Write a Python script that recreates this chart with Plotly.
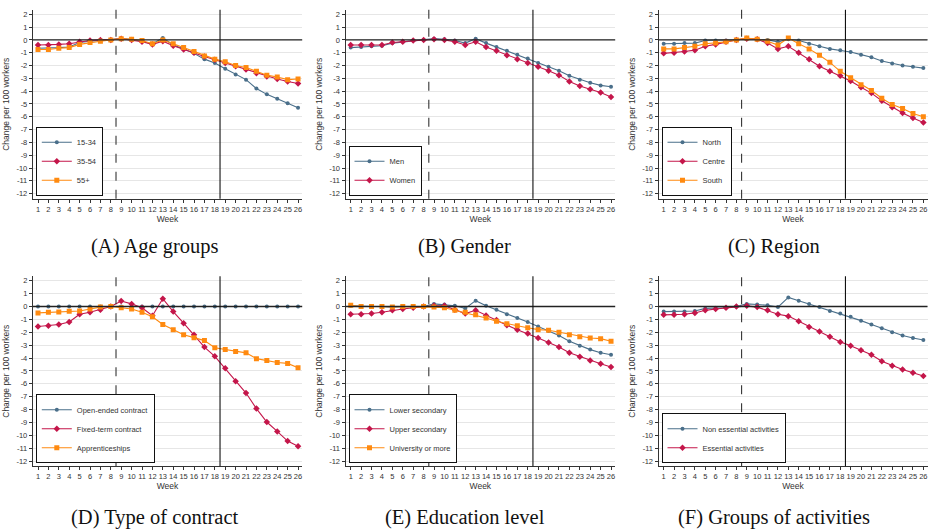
import plotly.graph_objects as go

weeks = list(range(1, 27))

# Panel A: Age groups
age_15_34 = [-0.65, -0.65, -0.6, -0.55, -0.2, -0.1, -0.05, 0, 0.1, 0.05, -0.1, -0.3, 0.15, -0.4, -0.7, -1.05, -1.5, -1.8, -2.25, -2.7, -3.1, -3.8, -4.25, -4.6, -4.95, -5.3]
age_35_54 = [-0.4, -0.4, -0.35, -0.3, -0.15, -0.05, 0, 0, 0.1, 0, -0.15, -0.35, -0.1, -0.45, -0.75, -1.0, -1.3, -1.55, -1.8, -2.05, -2.3, -2.6, -2.85, -3.05, -3.25, -3.4]
age_55p = [-0.75, -0.75, -0.65, -0.6, -0.35, -0.2, -0.1, 0, 0.1, 0.05, -0.05, -0.3, 0, -0.3, -0.6, -0.9, -1.25, -1.5, -1.7, -2.0, -2.15, -2.45, -2.75, -2.9, -3.1, -3.05]

# Panel B: Gender
men = [-0.6, -0.55, -0.5, -0.45, -0.25, -0.15, -0.05, 0, 0.1, 0.05, -0.05, -0.25, 0.1, -0.25, -0.55, -0.85, -1.15, -1.45, -1.8, -2.1, -2.4, -2.8, -3.1, -3.35, -3.55, -3.65]
women = [-0.4, -0.4, -0.4, -0.4, -0.2, -0.15, -0.05, 0, 0.05, 0, -0.15, -0.4, -0.15, -0.55, -0.85, -1.2, -1.5, -1.8, -2.1, -2.4, -2.75, -3.25, -3.6, -3.85, -4.1, -4.45]

# Panel C: Region
north = [-0.3, -0.3, -0.25, -0.25, -0.05, -0.05, -0.05, 0, 0.1, 0.05, 0, -0.15, 0.05, -0.05, -0.3, -0.5, -0.7, -0.8, -0.95, -1.15, -1.35, -1.65, -1.85, -2.0, -2.1, -2.2]
centre = [-1.05, -1.0, -0.9, -0.8, -0.5, -0.35, -0.15, 0, 0.1, 0.05, -0.25, -0.7, -0.5, -1.0, -1.5, -2.05, -2.45, -2.8, -3.2, -3.7, -4.15, -4.75, -5.25, -5.7, -6.1, -6.45]
south = [-0.7, -0.7, -0.6, -0.5, -0.3, -0.25, -0.15, 0, 0.15, 0.05, -0.1, -0.4, 0.15, -0.3, -0.7, -1.2, -1.75, -2.45, -2.95, -3.5, -3.95, -4.55, -5.05, -5.35, -5.75, -6.0]

# Panel D: Type of contract
open_ended = [0] * 26
fixed_term = [-1.55, -1.5, -1.4, -1.2, -0.6, -0.45, -0.25, 0, 0.42, 0.2, -0.1, -0.72, 0.6, -0.4, -1.3, -2.2, -3.15, -3.87, -4.8, -5.8, -6.72, -7.93, -8.97, -9.7, -10.45, -10.85]
apprentices = [-0.5, -0.45, -0.42, -0.38, -0.35, -0.2, -0.05, 0, -0.1, -0.2, -0.45, -0.8, -1.4, -1.8, -2.2, -2.42, -2.65, -3.2, -3.35, -3.5, -3.6, -4.05, -4.2, -4.35, -4.42, -4.75]

# Panel E: Education level
lower_sec = [0.05, 0.0, 0.0, 0.0, -0.05, 0.0, 0.0, 0, 0.2, 0.15, 0.05, -0.15, 0.45, 0.05, -0.25, -0.6, -0.9, -1.2, -1.55, -1.9, -2.25, -2.7, -3.05, -3.35, -3.6, -3.75]
upper_sec = [-0.6, -0.6, -0.55, -0.45, -0.3, -0.2, -0.1, 0, 0.05, 0.05, -0.25, -0.55, -0.3, -0.7, -1.05, -1.45, -1.8, -2.1, -2.45, -2.8, -3.15, -3.6, -3.9, -4.2, -4.45, -4.7]
university = [0.1, 0.0, 0.0, 0.0, -0.05, 0.0, 0.0, 0, -0.05, -0.1, -0.3, -0.45, -0.65, -0.9, -1.15, -1.35, -1.5, -1.65, -1.8, -1.85, -2.0, -2.2, -2.35, -2.45, -2.5, -2.7]

# Panel F: Groups of activities
non_essential = [-0.4, -0.4, -0.4, -0.35, -0.15, -0.15, -0.1, 0, 0.2, 0.15, 0.1, -0.05, 0.7, 0.45, 0.2, -0.05, -0.35, -0.55, -0.8, -1.1, -1.4, -1.7, -2.0, -2.25, -2.45, -2.6]
essential = [-0.65, -0.65, -0.6, -0.5, -0.3, -0.2, -0.1, 0, 0.05, -0.05, -0.3, -0.6, -0.75, -1.15, -1.6, -1.95, -2.35, -2.75, -3.05, -3.4, -3.75, -4.25, -4.6, -4.9, -5.15, -5.4]

captions = ["(A) Age groups", "(B) Gender", "(C) Region",
            "(D) Type of contract", "(E) Education level", "(F) Groups of activities"]

panels = [
    [("15-34", age_15_34), ("35-54", age_35_54), ("55+", age_55p)],
    [("Men", men), ("Women", women)],
    [("North", north), ("Centre", centre), ("South", south)],
    [("Open-ended contract", open_ended), ("Fixed-term contract", fixed_term), ("Apprenticeships", apprentices)],
    [("Lower secondary", lower_sec), ("Upper secondary", upper_sec), ("University or more", university)],
    [("Non essential activities", non_essential), ("Essential activities", essential)],
]

y_ticks = list(range(2, -13, -1))
x_ticks = weeks

BLUE = "#4a6f8a"
RED = "#c4164a"
ORANGE = "#ff8a10"
styles = [(BLUE, "circle", 4), (RED, "diamond", 5), (ORANGE, "square", 5)]

W, H = 929, 531
col_dom = [(32.8 / W, 302.2 / W), (345.5 / W, 615.2 / W), (658.5 / W, 927.5 / W)]
row_dom = [(1 - 198.8 / H, 1 - 9.8 / H), (1 - 466.2 / H, 1 - 276.2 / H)]
XR = [0.5, 26.4]
YR = [-12.4, 2.35]

fig = go.Figure()
layout = dict(width=W, height=H, margin=dict(l=0, r=0, t=0, b=0),
              paper_bgcolor="white", plot_bgcolor="white", showlegend=True,
              font=dict(family="Liberation Sans, Arial", size=8, color="#333"))
shapes = []
annotations = []

for i, series in enumerate(panels):
    r, c = divmod(i, 3)
    n = i + 1
    xa = "x" if n == 1 else f"x{n}"
    ya = "y" if n == 1 else f"y{n}"
    lg = "legend" if n == 1 else f"legend{n}"
    for j, (name, vals) in enumerate(series):
        color, sym, sz = styles[j]
        fig.add_trace(go.Scatter(
            x=weeks, y=vals, name=name, mode="lines+markers",
            line=dict(color=color, width=1.1),
            marker=dict(color=color, symbol=sym, size=sz),
            xaxis=xa, yaxis=ya, legend=lg))
    key = "" if n == 1 else str(n)
    layout["xaxis" + key] = dict(
        domain=col_dom[c], range=XR, anchor=ya, tickmode="array",
        tickvals=x_ticks, ticktext=[str(w) for w in x_ticks], tickangle=0,
        ticks="outside", ticklen=3, tickwidth=1, tickcolor="#333",
        showline=True, linecolor="#333", linewidth=1, showgrid=False, zeroline=False,
        tickfont=dict(size=7.5, color="#333"),
        title=dict(text="Week", font=dict(size=8.5, color="#333"), standoff=0))
    layout["yaxis" + key] = dict(
        domain=row_dom[r], range=YR, anchor=xa, tickmode="array",
        tickvals=y_ticks, ticktext=[str(v) for v in y_ticks],
        ticks="outside", ticklen=3, tickwidth=1, tickcolor="#333",
        showline=True, linecolor="#333", linewidth=1,
        showgrid=True, gridcolor="#e6e6e6", gridwidth=1, zeroline=False,
        tickfont=dict(size=7.5, color="#333"),
        title=dict(text="Change per 100 workers", font=dict(size=8.5, color="#333"), standoff=5))
    xref = "x" if n == 1 else f"x{n}"
    yref = "y" if n == 1 else f"y{n}"
    shapes.append(dict(type="line", xref=xref + " domain", yref=yref, x0=0, x1=1, y0=0, y1=0,
                       line=dict(color="#222", width=1.4), layer="above"))
    shapes.append(dict(type="line", xref=xref, yref=yref + " domain", x0=8.5, x1=8.5, y0=0, y1=1,
                       line=dict(color="#333", width=1.1, dash="dash"), layer="above"))
    shapes.append(dict(type="line", xref=xref, yref=yref + " domain", x0=18.5, x1=18.5, y0=0, y1=1,
                       line=dict(color="#111", width=1.1), layer="above"))
    layout[lg] = dict(
        x=col_dom[c][0] + 3 / W, y=row_dom[r][0] + 3 / H, xanchor="left", yanchor="bottom",
        xref="paper", yref="paper",
        bordercolor="#111", borderwidth=1, bgcolor="white",
        font=dict(size=7.5, color="#333"), tracegroupgap=0, itemwidth=30)
    cx = (2 * c + 1) / 6
    cy = 1 - (247 / H if r == 0 else 517 / H)
    annotations.append(dict(text=captions[i], xref="paper", yref="paper", x=cx, y=cy,
                            xanchor="center", yanchor="middle", showarrow=False,
                            font=dict(family="Liberation Serif, DejaVu Serif, serif", size=20.5, color="#111")))

layout["shapes"] = shapes
layout["annotations"] = annotations
fig.update_layout(**layout)
fig.write_html("out.html")
